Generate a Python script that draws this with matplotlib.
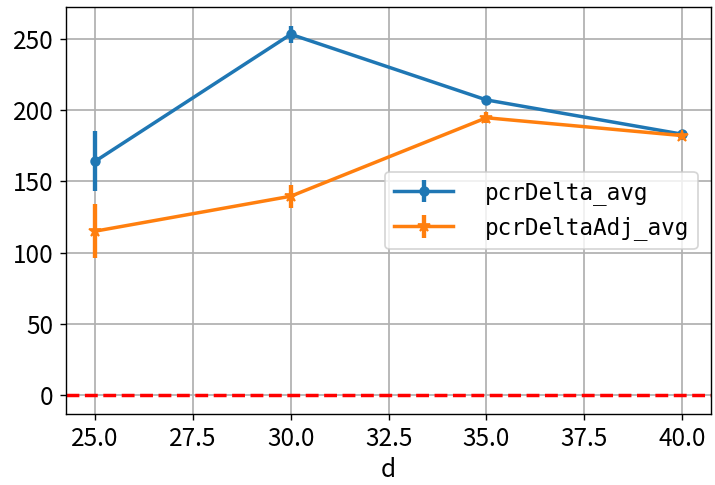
import matplotlib

matplotlib.use("Agg")
import matplotlib.pyplot as plt
from matplotlib.ticker import MultipleLocator

plt.rcParams["font.family"] = ["Noto Sans CJK SC", "DejaVu Sans"]
plt.rcParams["axes.unicode_minus"] = False

d = [25, 30, 35, 40]
delta_avg = [164, 253, 207, 183]
delta_err = [21, 6, 2.5, 2]
adj_avg = [115, 139.5, 194.5, 182]
adj_err = [19, 8, 4, 3]

fig, ax = plt.subplots(figsize=(5.72, 3.88), dpi=125)
ax.errorbar(d, delta_avg, yerr=delta_err, marker="o", markersize=5,
            linewidth=2, elinewidth=2.5, label="pcrDelta_avg")
ax.errorbar(d, adj_avg, yerr=adj_err, marker="*", markersize=7,
            linewidth=2, elinewidth=2.5, label="pcrDeltaAdj_avg")
ax.axhline(0, color="red", linestyle="--", linewidth=2)
ax.xaxis.set_major_locator(MultipleLocator(2.5))
ax.xaxis.set_major_formatter(lambda v, p: f"{v:.1f}")
ax.grid(True, color="#b0b0b0", linewidth=1)
ax.set_xlabel("d", fontsize=14, labelpad=3)
ax.tick_params(labelsize=14)
ax.legend(loc="center right", prop={"family": "DejaVu Sans Mono", "size": 13},
          handlelength=2.6, handletextpad=1.4, borderaxespad=0.6)
fig.subplots_adjust(left=0.092, right=0.995, top=0.985, bottom=0.147)
fig.savefig("out.png")
